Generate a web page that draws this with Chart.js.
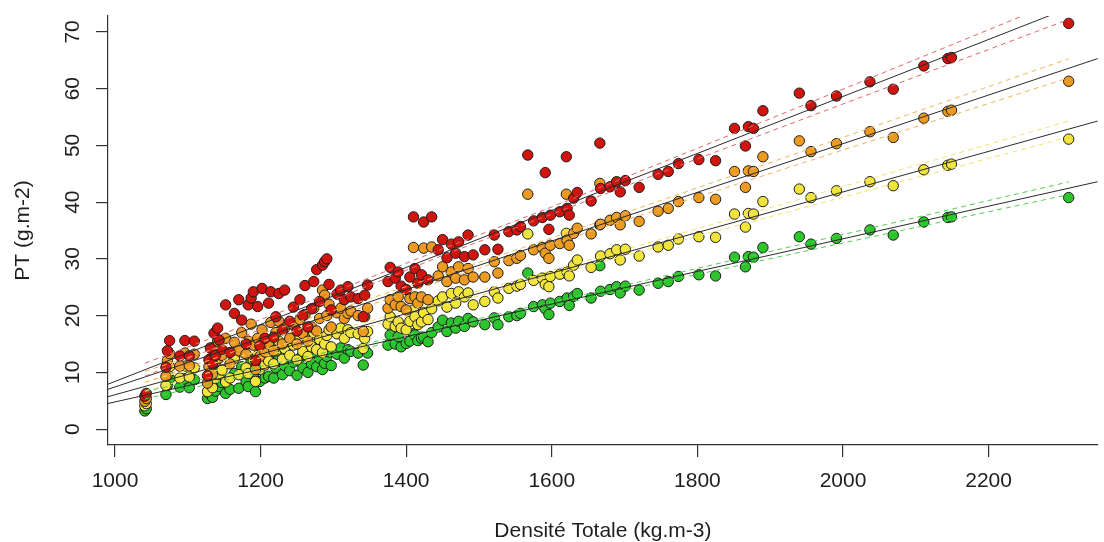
<!DOCTYPE html>
<html>
<head>
<meta charset="utf-8">
<script src="https://cdn.jsdelivr.net/npm/chart.js@4.4.1/dist/chart.umd.min.js"></script>
<style>
  html, body { margin: 0; padding: 0; background: #ffffff; overflow: hidden; }
  #wrap { width: 1104px; height: 542px; }
</style>
</head>
<body>
<div id="wrap"><canvas id="c" width="1104" height="542"></canvas></div>
<script>
// ---- Data ----
const densite = [1041,1043,1070,1072,1075,1089,1096,1102,1109,1127,1129,1131,1134,1136,1138,1141,1143,1147,1152,1158,1164,1170,1174,1180,1183,1187,1190,1193,1196,1199,1202,1206,1211,1214,1218,1221,1225,1230,1233,1240,1245,1250,1254,1258,1261,1265,1270,1273,1277,1281,1285,1288,1291,1294,1297,1305,1310,1315,1320,1324,1334,1341,1343,1347,1375,1378,1385,1389,1393,1400,1405,1410,1412,1416,1421,1424,1430,1435,1444,1450,1456,1462,1468,1472,1480,1485,1492,1508,1521,1526,1541,1552,1557,1567,1575,1587,1591,1596,1598,1611,1620,1621,1624,1630,1635,1654,1666,1667,1680,1689,1694,1701,1720,1746,1760,1774,1802,1825,1851,1866,1870,1877,1890,1940,1956,1991,2037,2069,2111,2144,2149,2310];
const ptVert = [3.2,3.6,6.1,7.7,8.9,7.4,8.9,7.3,8.7,5.4,6.3,7.1,5.6,9.0,6.7,10.0,7.5,8.2,6.3,7.0,9.8,7.2,11.0,8.4,7.5,12.0,9.5,6.6,10.5,8.4,11.5,9.0,9.3,12.0,9.0,10.8,12.5,9.6,11.2,10.3,11.8,9.5,12.5,10.8,13.0,10.0,11.5,13.5,11.0,12.5,10.5,11.6,12.8,13.6,11.2,13.2,14.3,12.5,14.0,13.7,13.4,11.3,14.0,13.4,14.8,16.6,15.0,16.3,14.5,15.1,15.5,16.8,16.6,15.6,16.0,16.2,15.4,17.0,18.0,19.2,17.2,18.7,17.8,19.0,18.1,19.5,18.9,18.4,19.6,18.4,19.8,20.0,20.4,27.5,21.6,21.9,21.2,20.2,22.2,22.5,27.4,23.1,21.8,23.4,23.9,23.1,28.8,24.3,24.6,25.1,24.0,25.2,24.5,25.7,26.0,26.9,27.2,27.0,30.3,28.6,30.4,30.3,32.0,33.9,32.6,33.6,35.1,34.2,36.5,37.3,37.4,40.8];
const ptJaune = [4.1,4.5,7.7,9.6,11.0,9.0,11.1,9.2,10.8,6.6,8.2,9.4,7.3,11.6,8.9,12.8,9.6,10.4,8.3,9.0,12.5,9.6,13.6,10.8,9.8,15.0,12.2,8.4,13.0,10.5,14.5,11.3,12.0,15.3,11.5,13.8,15.5,12.3,14.2,13.0,14.8,12.2,16.0,13.7,16.5,12.8,14.5,17.0,14.0,15.8,13.5,15.0,16.5,17.5,14.5,16.8,17.8,16.0,17.5,17.0,16.8,14.2,16.0,17.2,18.5,19.8,18.1,18.9,17.8,17.5,19.0,21.0,19.8,18.4,18.9,20.5,19.3,21.2,22.6,23.3,21.5,23.9,22.2,24.2,23.3,24.0,21.9,22.5,24.2,23.1,24.8,25.2,25.5,34.4,26.2,26.6,25.5,25.1,26.9,27.3,34.5,27.7,27.0,28.9,29.8,28.5,36.0,30.5,30.9,31.6,29.8,31.7,30.5,32.1,32.4,33.5,33.9,33.8,37.9,35.6,38.0,37.9,40.1,42.3,40.8,42.0,43.6,42.9,45.7,46.5,46.7,51.1];
const ptOrange = [4.9,5.4,9.3,12.1,13.3,11.1,13.4,11.2,13.2,8.1,11.0,12.4,9.7,14.4,11.8,15.5,12.5,13.0,16.0,11.5,15.3,13.8,17.0,13.2,15.5,18.5,14.8,10.5,16.0,12.8,17.5,13.6,15.0,18.8,13.8,17.0,19.0,15.0,17.8,16.0,18.4,15.0,19.3,16.8,20.2,15.5,18.0,21.3,17.3,19.5,24.5,23.6,20.0,22.0,18.0,20.5,21.3,19.5,20.4,20.8,20.0,17.2,19.8,21.3,21.3,22.8,21.9,23.3,21.6,21.0,23.0,32.0,23.3,22.2,23.3,31.9,22.8,32.1,27.0,28.6,26.0,27.7,26.6,28.6,26.3,28.3,26.8,26.8,29.5,27.5,29.7,30.1,30.6,41.4,31.6,32.0,31.0,30.1,32.4,32.7,41.4,33.3,32.4,34.5,35.4,34.4,43.3,36.1,36.8,37.3,36.0,37.6,36.6,38.4,38.9,40.1,40.8,40.5,45.4,42.6,45.5,45.4,48.0,50.8,48.9,50.3,52.4,51.4,54.8,56.0,56.2,61.3];
const ptRouge = [5.8,6.3,10.9,13.8,15.6,12.9,15.6,12.9,15.5,9.4,12.2,14.3,11.5,16.9,13.0,17.8,15.7,14.0,21.9,13.5,20.4,22.8,19.2,15.0,21.9,23.1,24.2,12.1,21.6,14.7,24.8,16.0,22.2,24.2,16.2,19.8,23.9,17.5,24.5,19.0,21.5,17.3,22.8,20.0,25.3,18.0,21.2,26.0,28.1,22.5,28.9,29.5,30.0,25.5,21.0,23.8,24.5,22.8,25.1,23.3,23.0,19.8,23.6,25.4,26.0,28.5,26.6,27.7,25.2,24.6,26.8,37.4,28.3,25.7,27.2,36.5,26.3,37.4,31.6,33.4,30.2,32.6,31.0,33.0,30.4,34.2,30.7,31.6,34.2,31.7,34.8,35.1,35.7,48.3,36.7,37.3,45.2,35.2,37.7,38.3,48.0,38.9,37.7,40.7,41.7,40.2,50.4,42.4,42.7,43.6,41.8,43.8,42.6,44.9,45.4,46.8,47.5,47.3,53.0,49.9,53.3,53.0,56.1,59.2,57.0,58.7,61.2,59.9,64.0,65.3,65.5,71.5];

// fitted lines (solid black), end points across the plot
const fitX = [990, 2350];
const fitRouge = [7.9, 76.2];
const fitOrange = [7.0, 65.3];
const fitJaune = [5.7, 54.3];
const fitVert = [4.5, 43.6];

// dashed bands around each fit
const bandX = [1041, 1150, 1300, 1450, 1600, 1800, 2000, 2200, 2310];
const bandRougeHaut = [11.61, 16.87, 24.16, 31.77, 39.15, 49.49, 59.91, 70.38, 76.13];
const bandRougeBas = [9.31, 14.99, 22.76, 30.61, 37.89, 47.63, 57.29, 66.90, 72.19];
const bandOrangeHaut = [10.18, 14.67, 20.89, 27.22, 33.69, 42.52, 51.42, 60.36, 65.28];
const bandOrangeBas = [8.20, 13.05, 19.69, 26.22, 32.61, 40.92, 49.18, 57.38, 61.90];
const bandJauneHaut = [8.34, 12.09, 17.28, 22.55, 27.95, 35.31, 42.74, 50.19, 54.29];
const bandJauneBas = [6.70, 10.75, 16.28, 21.73, 27.05, 33.99, 40.86, 47.71, 51.47];
const bandVertHaut = [6.63, 9.64, 13.81, 18.06, 22.40, 28.32, 34.29, 40.28, 43.57];
const bandVertBas = [5.31, 8.56, 13.01, 17.40, 21.68, 27.26, 32.79, 38.30, 41.33];

const xTicks = [1000, 1200, 1400, 1600, 1800, 2000, 2200];
const yTicks = [0, 10, 20, 30, 40, 50, 60, 70];
const xTitle = 'Densité Totale (kg.m-3)';
const yTitle = 'PT (g.m-2)';

// ---- Styling ----
const FONT = "'Liberation Sans', Arial, Helvetica, sans-serif";
const TXT = '#1e1e1e';
const AX = '#333333';
const col = { rouge: '#d0140e', orange: '#ec9b20', jaune: '#f1e43a', vert: '#2cc62c' };
const dash = { rouge: '#e2676b', orange: '#f1b45c', jaune: '#eee36a', vert: '#52cf52' };

function pts(ys) { return densite.map((x, i) => ({ x: x, y: ys[i] })); }
function seg(xs, ys) { return xs.map((x, i) => ({ x: x, y: ys[i] })); }

function scatterSet(label, ys, c, order) {
  return {
    label: label, data: pts(ys), showLine: false, order: order,
    pointRadius: 5.2, pointBorderWidth: 1, pointBorderColor: '#1c1c1c',
    pointBackgroundColor: c, backgroundColor: c, borderColor: '#1c1c1c'
  };
}
function lineSet(label, xs, ys, c, dashed) {
  return {
    label: label, data: seg(xs, ys), showLine: true, order: 0,
    pointRadius: 0, borderWidth: 1, borderColor: c, backgroundColor: c,
    borderDash: dashed ? [5, 4] : [], fill: false, tension: 0, clip: 0
  };
}

const datasets = [
  scatterSet('Rouge', ptRouge, col.rouge, 1),
  scatterSet('Orange', ptOrange, col.orange, 2),
  scatterSet('Jaune', ptJaune, col.jaune, 3),
  scatterSet('Vert', ptVert, col.vert, 4),
  lineSet('IC rouge +', bandX, bandRougeHaut, dash.rouge, true),
  lineSet('IC rouge -', bandX, bandRougeBas, dash.rouge, true),
  lineSet('IC orange +', bandX, bandOrangeHaut, dash.orange, true),
  lineSet('IC orange -', bandX, bandOrangeBas, dash.orange, true),
  lineSet('IC jaune +', bandX, bandJauneHaut, dash.jaune, true),
  lineSet('IC jaune -', bandX, bandJauneBas, dash.jaune, true),
  lineSet('IC vert +', bandX, bandVertHaut, dash.vert, true),
  lineSet('IC vert -', bandX, bandVertBas, dash.vert, true),
  lineSet('Fit rouge', fitX, fitRouge, '#2a2a2a', false),
  lineSet('Fit orange', fitX, fitOrange, '#2a2a2a', false),
  lineSet('Fit jaune', fitX, fitJaune, '#2a2a2a', false),
  lineSet('Fit vert', fitX, fitVert, '#2a2a2a', false)
];

new Chart(document.getElementById('c'), {
  type: 'scatter',
  data: { datasets: datasets },
  options: {
    responsive: false,
    animation: false,
    devicePixelRatio: 1,
    events: [],
    layout: { padding: { top: 16, left: 0, right: 0, bottom: 0 } },
    plugins: { legend: { display: false }, tooltip: { enabled: false } },
    scales: {
      x: {
        type: 'linear', position: 'bottom', min: 990.4, max: 2350,
        afterBuildTicks: (s) => { s.ticks = xTicks.map(v => ({ value: v })); },
        afterFit: (s) => { s.height = 97; s.paddingLeft = 0; s.paddingRight = 0; },
        grid: { display: true, drawOnChartArea: false, drawTicks: true, tickLength: 12, color: AX, lineWidth: 1.2 },
        border: { display: true, color: AX, width: 1.2 },
        ticks: { autoSkip: false, maxRotation: 0, minRotation: 0, padding: 12, color: TXT,
                 font: { family: FONT, size: 21 }, callback: (v) => String(v) },
        title: { display: true, text: xTitle, color: TXT,
                 font: { family: FONT, size: 21, lineHeight: 1 }, padding: { top: 0, bottom: 0 } }
      },
      y: {
        type: 'linear', position: 'left', min: -2.8, max: 72.8,
        afterBuildTicks: (s) => { s.ticks = yTicks.map(v => ({ value: v })); },
        afterFit: (s) => { s.width = 108; s.paddingTop = 0; s.paddingBottom = 0; },
        grid: { display: true, drawOnChartArea: false, drawTicks: true, tickLength: 12, color: AX, lineWidth: 1.2 },
        border: { display: true, color: AX, width: 1.2 },
        ticks: { autoSkip: false, minRotation: 90, maxRotation: 90, crossAlign: 'center', padding: 11, color: TXT,
                 font: { family: FONT, size: 21 }, callback: (v) => String(v) },
        title: { display: true, text: yTitle, color: TXT,
                 font: { family: FONT, size: 21, lineHeight: 1 }, padding: { top: 13, bottom: 0 } }
      }
    }
  }
});
</script>
</body>
</html>
